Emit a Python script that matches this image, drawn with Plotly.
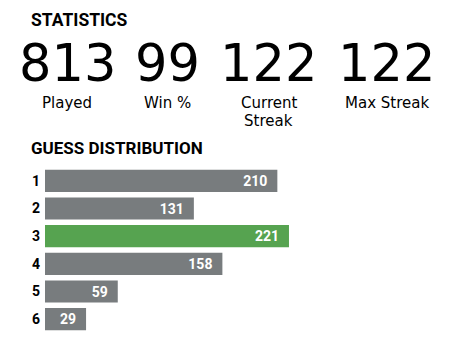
import plotly.graph_objects as go

guesses = ["1", "2", "3", "4", "5", "6"]
counts = [210, 131, 221, 158, 59, 29]
highlight = "3"

stat_values = ["813", "99", "122", "122"]
stat_labels = [["Played"], ["Win %"], ["Current", "Streak"], ["Max Streak"]]

GRAY = "#787c7e"
GREEN = "#56a350"
PAD = 9.85  # minimum bar padding in data units

OFF = 8  # page body margin
W, H = 453 - OFF, 358 - OFF
ML, MR, MT, MB = 45 - OFF, 13, 167 - OFF, 25
PW, PH = W - ML - MR, H - MT - MB


def px(x):
    return (x - OFF - ML) / PW


def py(y):
    return (H - MB - (y - OFF)) / PH


colors = [GREEN if g == highlight else GRAY for g in guesses]

fig = go.Figure()
fig.add_trace(go.Bar(
    x=[c + PAD for c in counts], y=guesses, orientation="h", base=-PAD,
    marker=dict(color=colors, line=dict(width=0)),
    text=[f"<b>{c}</b>&nbsp;&nbsp;" for c in counts],
    textposition="inside", insidetextanchor="end", textangle=0,
    insidetextfont=dict(family="Roboto", size=14, color="white"),
    hoverinfo="skip",
))

ann = []
ann.append(dict(x=px(31), y=py(20), xref="paper", yref="paper", text="<b>STATISTICS</b>",
                showarrow=False, xanchor="left", yanchor="middle", xshift=-2,
                font=dict(family="Roboto", size=17.5, color="black")))
ann.append(dict(x=px(31), y=py(148), xref="paper", yref="paper", text="<b>GUESS DISTRIBUTION</b>",
                showarrow=False, xanchor="left", yanchor="middle", xshift=-2,
                font=dict(family="Roboto", size=17, color="black")))

centers = [67, 167, 268.5, 386.5]
for cx, v, labs in zip(centers, stat_values, stat_labels):
    ann.append(dict(x=px(cx), y=py(63.5), xref="paper", yref="paper", text=v,
                    showarrow=False, xanchor="center", yanchor="middle",
                    font=dict(family="DejaVu Sans", size=51, color="black")))
    for i, lab in enumerate(labs):
        ann.append(dict(x=px(cx), y=py(103.5 + 17 * i), xref="paper", yref="paper", text=lab,
                        showarrow=False, xanchor="center", yanchor="middle",
                        font=dict(family="DejaVu Sans", size=15, color="black")))

fig.update_layout(
    width=W, height=H,
    margin=dict(l=ML, r=MR, t=MT, b=MB, autoexpand=False),
    paper_bgcolor="white", plot_bgcolor="white",
    bargap=0.2, showlegend=False,
    annotations=ann,
    xaxis=dict(range=[-PAD, 363.9], visible=False, fixedrange=True),
    yaxis=dict(type="category", autorange="reversed", showgrid=False, zeroline=False,
               showline=False, automargin=False,
               ticks="", ticklabelstandoff=4,
               tickfont=dict(family="Roboto", size=14, color="black", weight="bold")),
)

fig.write_html("out.html")
